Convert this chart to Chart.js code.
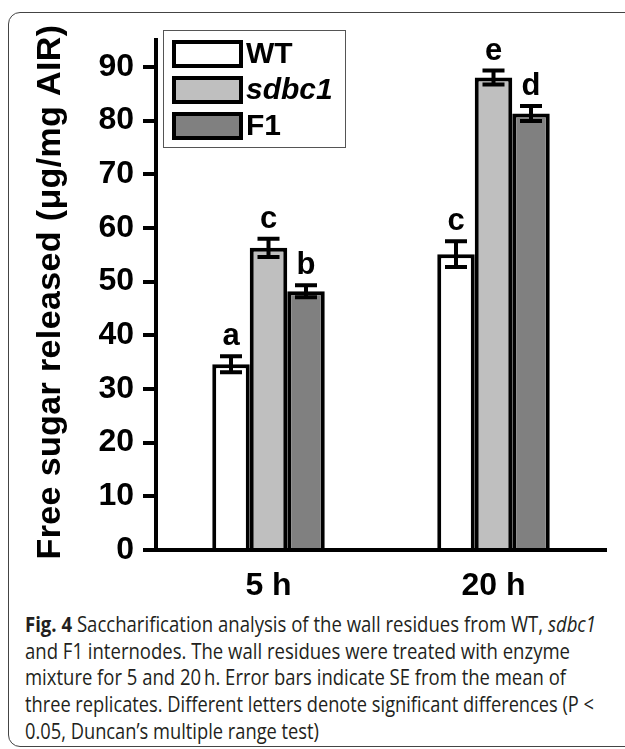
<!DOCTYPE html>
<html>
<head>
<meta charset="utf-8">
<script src="https://cdn.jsdelivr.net/npm/chart.js@4.4.1/dist/chart.umd.min.js"></script>
<style>
  body { margin: 0; background: #fff; width: 625px; height: 749px; overflow: hidden; position: relative; }
  #frame { position: absolute; left: 8px; top: 12px; width: 660px; height: 733px;
           border: 1.5px solid #444; border-radius: 12px; }
  #wrap { position: absolute; left: 0; top: 0; }
  #caption { position: absolute; left: 25px; top: 611px; font-family: "Open Sans", "Noto Sans", sans-serif;
             font-size: 21px; line-height: 26.7px; color: #231f20; white-space: nowrap; }
  #caption span { display: inline-block; transform-origin: 0 0; }
</style>
</head>
<body>
<div id="frame"></div>
<div id="wrap"><canvas id="grafico" width="625" height="600"></canvas></div>
<div id="caption">
  <span data-w="571"><b>Fig. 4</b> Saccharification analysis of the wall residues from WT, <i>sdbc1</i></span><br>
  <span data-w="545">and F1 internodes. The wall residues were treated with enzyme</span><br>
  <span data-w="541">mixture for 5 and 20&#8201;h. Error bars indicate SE from the mean of</span><br>
  <span data-w="569">three replicates. Different letters denote significant differences (P &lt;</span><br>
  <span data-w="294">0.05, Duncan’s multiple range test)</span>
</div>
<script>
// datos
const categorias = ["5 h", "20 h"];
const wt = [34.6, 55.1];
const wtErr = [1.5, 2.4];
const sdbc1 = [56.3, 88.0];
const sdbc1Err = [1.7, 1.3];
const f1 = [48.2, 81.3];
const f1Err = [1.1, 1.4];
const letrasWt = ["a", "c"];
const letrasSdbc1 = ["c", "e"];
const letrasF1 = ["b", "d"];
const yTicks = [0, 10, 20, 30, 40, 50, 60, 70, 80, 90];
const tituloY = "Free sugar released (μg/mg AIR)";

const fuente = "'Liberation Sans', Arial, sans-serif";
Chart.defaults.font.family = fuente;
Chart.defaults.color = "#000";

const errores = [wtErr, sdbc1Err, f1Err];
const letras = [letrasWt, letrasSdbc1, letrasF1];

const barrasError = {
  id: "barrasError",
  afterDatasetsDraw(chart) {
    const ctx = chart.ctx;
    const y = chart.scales.y;
    ctx.save();
    ctx.strokeStyle = "#000";
    ctx.lineWidth = 4;
    ctx.fillStyle = "#000";
    ctx.font = "bold 31px " + fuente;
    ctx.textAlign = "center";
    ctx.textBaseline = "alphabetic";
    chart.data.datasets.forEach((ds, i) => {
      const meta = chart.getDatasetMeta(i);
      meta.data.forEach((bar, j) => {
        const v = ds.data[j];
        const e = errores[i][j];
        const top = y.getPixelForValue(v + e);
        const bot = y.getPixelForValue(v - e);
        ctx.beginPath();
        ctx.moveTo(bar.x, top);
        ctx.lineTo(bar.x, bot);
        ctx.moveTo(bar.x - 11, top);
        ctx.lineTo(bar.x + 11, top);
        ctx.moveTo(bar.x - 11, bot);
        ctx.lineTo(bar.x + 11, bot);
        ctx.stroke();
        ctx.fillText(letras[i][j], bar.x, top - 11);
      });
    });
    ctx.restore();
  },
};

const leyenda = {
  id: "leyenda",
  afterDraw(chart) {
    const ctx = chart.ctx;
    ctx.save();
    ctx.strokeStyle = "#555";
    ctx.lineWidth = 1;
    ctx.strokeRect(163.5, 30.5, 182, 117);
    chart.data.datasets.forEach((ds, i) => {
      const yy = 42 + i * 36;
      ctx.fillStyle = ds.backgroundColor;
      ctx.fillRect(174, yy, 67, 24);
      ctx.strokeStyle = "#000";
      ctx.lineWidth = 4;
      ctx.strokeRect(174, yy, 67, 24);
      ctx.fillStyle = "#000";
      ctx.font = (i === 1 ? "italic " : "") + "bold 30px " + fuente;
      ctx.textBaseline = "middle";
      ctx.textAlign = "left";
      ctx.fillText(ds.label, 246, yy + 13);
    });
    ctx.restore();
  },
};

// titulo del eje y, con espaciado para igualar el largo del original
const tituloEje = {
  id: "tituloEje",
  afterDraw(chart) {
    const ctx = chart.ctx;
    ctx.save();
    ctx.font = "bold 34px " + fuente;
    const w = ctx.measureText(tituloY).width;
    const largo = 535;
    ctx.letterSpacing = Math.max(0, (largo - w) / tituloY.length).toFixed(2) + "px";
    ctx.translate(51, 292);
    ctx.rotate(-Math.PI / 2);
    ctx.fillStyle = "#000";
    ctx.textAlign = "center";
    ctx.textBaseline = "middle";
    ctx.fillText(tituloY, 0, 0);
    ctx.restore();
  },
};

const ctx = document.getElementById("grafico").getContext("2d");
new Chart(ctx, {
  type: "bar",
  data: {
    labels: categorias,
    datasets: [
      { label: "WT", data: wt, backgroundColor: "#ffffff", borderColor: "#000", borderWidth: 4 },
      { label: "sdbc1", data: sdbc1, backgroundColor: "#bfbfbf", borderColor: "#000", borderWidth: 4 },
      { label: "F1", data: f1, backgroundColor: "#808080", borderColor: "#000", borderWidth: 4 },
    ],
  },
  options: {
    responsive: false,
    animation: false,
    devicePixelRatio: 1,
    layout: { padding: { left: 0, right: 19, top: 40, bottom: 0 } },
    datasets: { bar: { categoryPercentage: 0.5, barPercentage: 1.0, borderSkipped: "bottom" } },
    plugins: { legend: { display: false }, tooltip: { enabled: false } },
    scales: {
      x: {
        grid: { display: false, drawTicks: false },
        border: { display: true, color: "#000", width: 4 },
        ticks: { font: { size: 32, weight: "bold" }, padding: 17 },
        afterFit: (s) => { s.height = 50; },
      },
      y: {
        min: 0,
        max: 95,
        afterBuildTicks: (s) => { s.ticks = yTicks.map((v) => ({ value: v })); },
        grid: { drawOnChartArea: false, drawTicks: true, tickLength: 13, color: "#000", lineWidth: 4 },
        border: { display: true, color: "#000", width: 4 },
        ticks: { font: { size: 32, weight: "bold" }, padding: 9 },
        afterFit: (s) => { s.width = 156; },
      },
    },
  },
  plugins: [barrasError, leyenda, tituloEje],
});

// ajustar ancho del pie de figura
document.querySelectorAll("#caption span").forEach((d) => {
  const w = d.getBoundingClientRect().width;
  const k = parseFloat(d.dataset.w) / w;
  d.style.transform = "scaleX(" + k + ")";
});
</script>
</body>
</html>
